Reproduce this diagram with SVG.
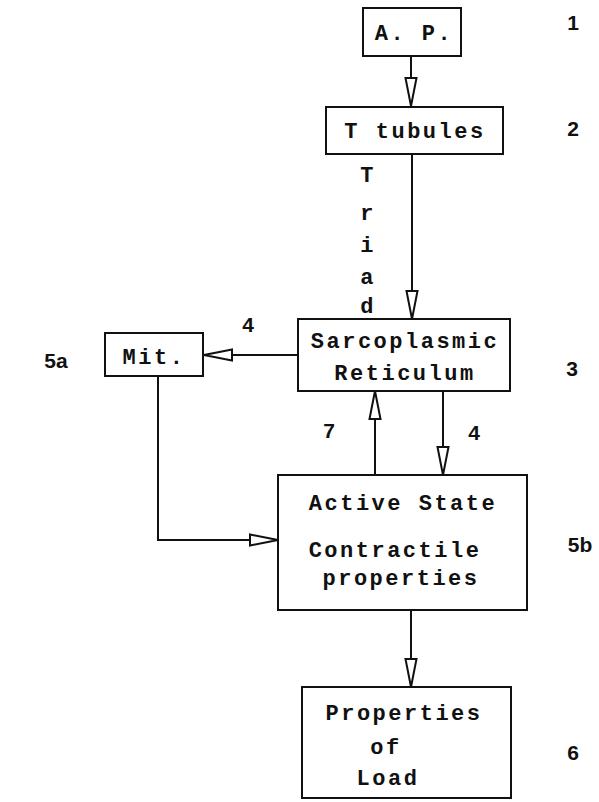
<svg xmlns="http://www.w3.org/2000/svg" width="599" height="802" viewBox="0 0 599 802">
<defs>
<style>
.box{fill:#fff;stroke:#111;stroke-width:2}
.ln{fill:none;stroke:#111;stroke-width:2}
.tx{font-family:"Liberation Mono","Courier New",monospace;font-size:22px;font-weight:bold;fill:#111;text-anchor:middle;letter-spacing:2.5px}
.num{font-family:"Liberation Sans",Arial,sans-serif;font-size:21px;font-weight:bold;fill:#111;text-anchor:middle}
</style>
<marker id="ah" viewBox="0 0 30 14" refX="29" refY="7" markerWidth="30" markerHeight="14" markerUnits="userSpaceOnUse" orient="auto">
<path d="M1,1.5 L29,7 L1,12.5 Z" fill="#fff" stroke="#111" stroke-width="2"/>
</marker>
</defs>
<rect width="599" height="802" fill="#fff"/>
<g id="connectors">
<line class="ln" x1="411" y1="56" x2="411" y2="106" marker-end="url(#ah)"/>
<line class="ln" x1="412" y1="154" x2="412" y2="319" marker-end="url(#ah)"/>
<line class="ln" x1="298" y1="355" x2="204" y2="355" marker-end="url(#ah)"/>
<polyline class="ln" points="158,376 158,540 278,540" marker-end="url(#ah)"/>
<line class="ln" x1="375" y1="475" x2="375" y2="391" marker-end="url(#ah)"/>
<line class="ln" x1="443" y1="391" x2="443" y2="475" marker-end="url(#ah)"/>
<line class="ln" x1="411" y1="610" x2="411" y2="687" marker-end="url(#ah)"/>
</g>
<g id="ap">
<rect class="box" x="363" y="8" width="98" height="48"/>
<text class="tx" x="414" y="40">A. P.</text>
</g>
<g id="ttubules">
<rect class="box" x="326" y="107" width="177" height="47"/>
<text class="tx" x="415" y="138">T tubules</text>
</g>
<g id="triad">
<text class="tx" x="368" y="182">T</text>
<text class="tx" x="368" y="220">r</text>
<text class="tx" x="368" y="252">i</text>
<text class="tx" x="368" y="284">a</text>
<text class="tx" x="368" y="313">d</text>
</g>
<g id="sr">
<rect class="box" x="298" y="319" width="212" height="72"/>
<text class="tx" x="405" y="348">Sarcoplasmic</text>
<text class="tx" x="405" y="380">Reticulum</text>
</g>
<g id="mit">
<rect class="box" x="105" y="333" width="98" height="43"/>
<text class="tx" x="154" y="364">Mit.</text>
</g>
<g id="active">
<rect class="box" x="278" y="475" width="249" height="135"/>
<text class="tx" x="403" y="510">Active State</text>
<text class="tx" x="395" y="557">Contractile</text>
<text class="tx" x="401" y="585">properties</text>
</g>
<g id="load">
<rect class="box" x="302" y="687" width="209" height="111"/>
<text class="tx" x="404" y="720">Properties</text>
<text class="tx" x="386" y="754">of</text>
<text class="tx" x="388" y="785">Load</text>
</g>
<g id="labels">
<text class="num" x="573" y="30">1</text>
<text class="num" x="573" y="136">2</text>
<text class="num" x="572" y="376">3</text>
<text class="num" x="248" y="332">4</text>
<text class="num" x="56" y="368">5a</text>
<text class="num" x="329" y="438">7</text>
<text class="num" x="474" y="440">4</text>
<text class="num" x="580" y="552">5b</text>
<text class="num" x="573" y="760">6</text>
</g>
</svg>
